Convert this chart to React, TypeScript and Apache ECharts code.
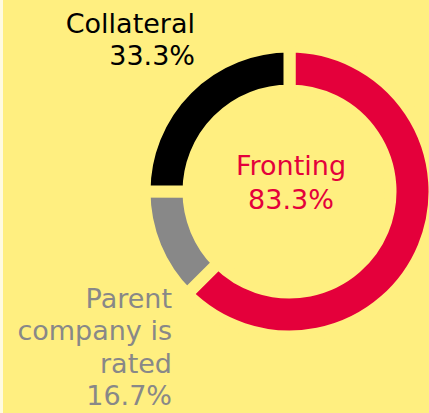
import React, { useEffect, useRef } from "react";
import * as echarts from "echarts";

const categories = ["Fronting", "Parent\ncompany is\nrated", "Collateral"];
const values = [83.3, 16.7, 33.3];
const colors = ["#E4003B", "#888888", "#000000"];

const BG = "#FFEF80";
const FONT = "'DejaVu Sans', sans-serif";

export default function App() {
  const ref = useRef<HTMLDivElement>(null);
  useEffect(() => {
    document.body.style.margin = "0";
    const chart = echarts.init(ref.current!, null, { renderer: "svg" });
    const label = (i: number) => `${categories[i]}\n${values[i].toFixed(1)}%`;
    chart.setOption({
      animation: false,
      backgroundColor: BG,
      graphic: [
        { type: "rect", shape: { x: 0, y: 0, width: 3, height: 413 }, style: { fill: "#FFFBE0" } },
        {
          type: "text",
          x: 195,
          y: 7,
          style: {
            text: label(2),
            fill: colors[2],
            font: `27px ${FONT}`,
            lineHeight: 32,
            align: "right",
            verticalAlign: "top",
          },
        },
        {
          type: "text",
          x: 291,
          y: 148,
          style: {
            text: label(0),
            fill: colors[0],
            font: `27px ${FONT}`,
            lineHeight: 34,
            align: "center",
            verticalAlign: "top",
          },
        },
        {
          type: "text",
          x: 172,
          y: 282,
          style: {
            text: label(1),
            fill: colors[1],
            font: `27px ${FONT}`,
            lineHeight: 32.5,
            align: "right",
            verticalAlign: "top",
          },
        },
      ],
      series: [
        {
          type: "pie",
          center: [289.5, 191.5],
          radius: [101, 145],
          startAngle: 90,
          clockwise: true,
          label: { show: false },
          labelLine: { show: false },
          emphasis: { disabled: true },
          itemStyle: { borderColor: BG, borderWidth: 12 },
          data: categories.map((c, i) => ({
            name: c,
            value: values[i],
            itemStyle: { color: colors[i] },
          })),
        },
      ],
    });
    return () => chart.dispose();
  }, []);
  return <div ref={ref} style={{ width: 429, height: 413 }} />;
}
